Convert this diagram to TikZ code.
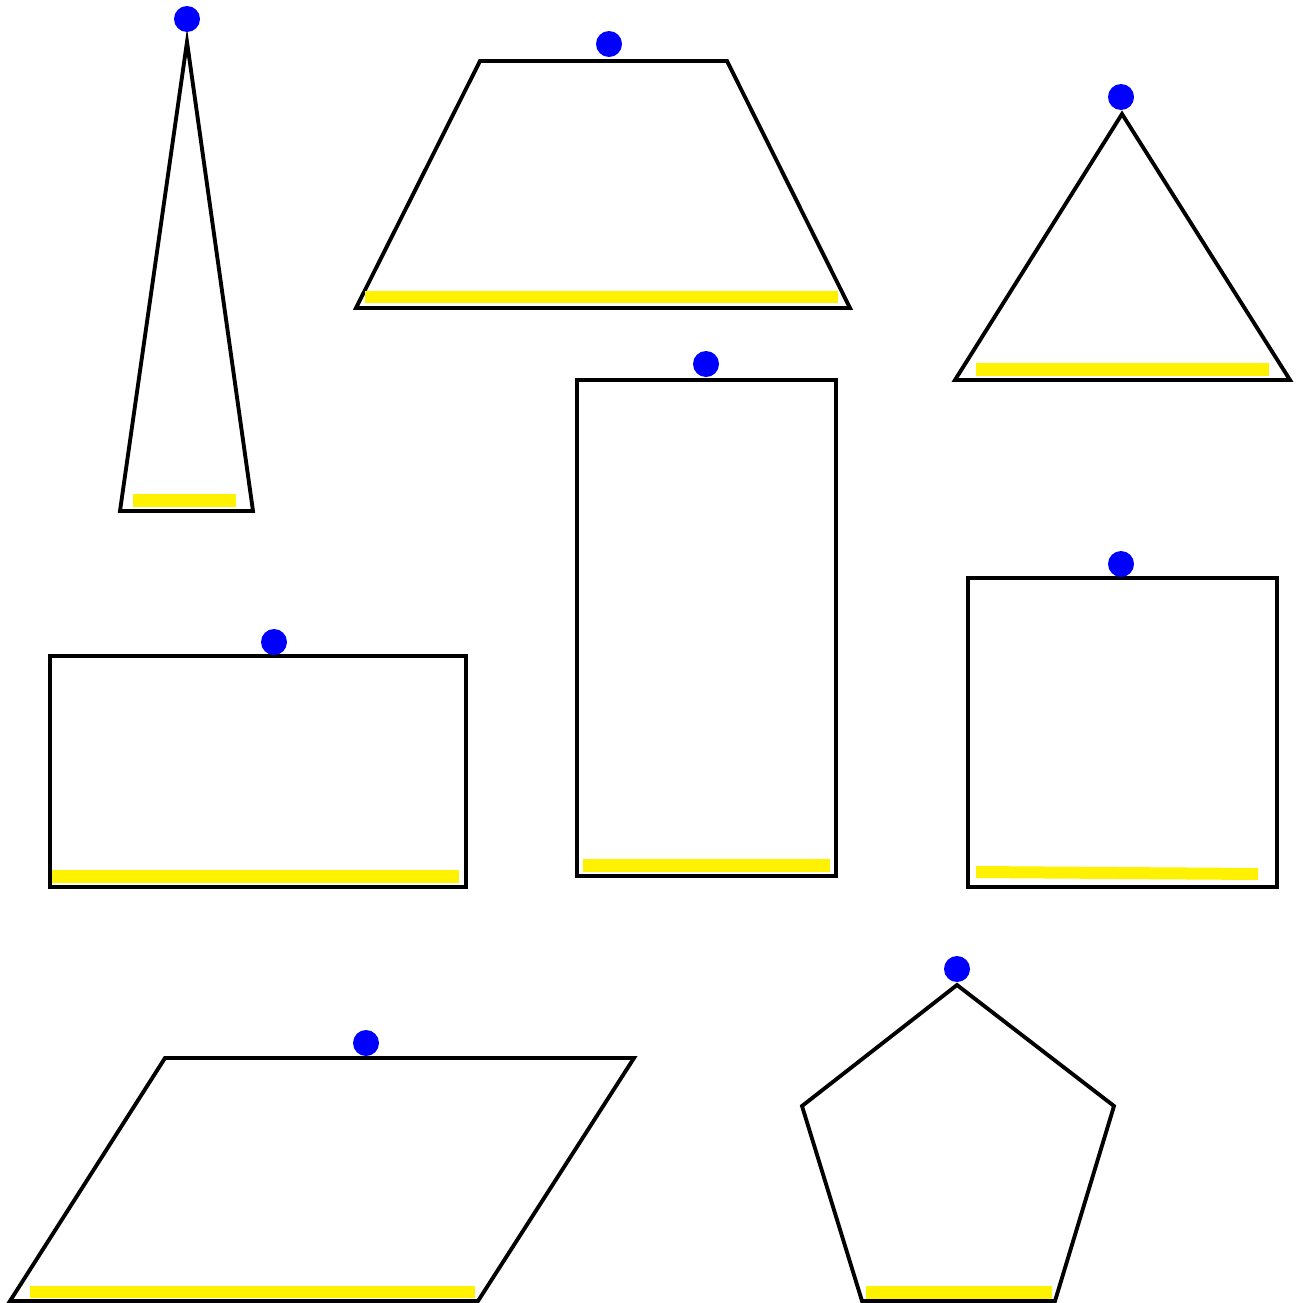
\documentclass[tikz,border=0pt]{standalone}
\usepackage{tikz}

\begin{document}
\begin{tikzpicture}[
  x=0.01cm, y=-0.01cm,
  outline/.style={draw=black, line width=1.1pt, line join=miter},
  base/.style={fill=yellow},
  apex/.style={fill=blue}
]
  \useasboundingbox (0,0) rectangle (1303,1303);

  % Thin triangle
  \draw[outline] (187,42) -- (253,511) -- (120,511) -- cycle;
  \fill[base] (133,494) rectangle (236,507);
  \fill[apex] (187,19) circle (13);

  % Trapezoid
  \draw[outline] (480,61) -- (727,61) -- (850,308) -- (356,308) -- cycle;
  \fill[base] (365,291) rectangle (838,303);
  \fill[apex] (609,44) circle (13);

  % Triangle
  \draw[outline] (1122,114) -- (1290,380) -- (955,380) -- cycle;
  \fill[base] (976,363) rectangle (1269,376);
  \fill[apex] (1121,97) circle (13);

  % Tall rectangle
  \draw[outline] (577,380) rectangle (836,876);
  \fill[base] (583,859) rectangle (830,872);
  \fill[apex] (706,364) circle (13);

  % Wide rectangle
  \draw[outline] (50,656) rectangle (466,887);
  \fill[base] (52,870) rectangle (459,883);
  \fill[apex] (274,642) circle (13);

  % Square
  \draw[outline] (968,578) rectangle (1277,887);
  \fill[base] (976,866) -- (1258,868) -- (1258,880) -- (976,878) -- cycle;
  \fill[apex] (1121,564) circle (13);

  % Parallelogram
  \draw[outline] (165,1058) -- (634,1058) -- (478,1301) -- (10,1301) -- cycle;
  \fill[base] (30,1286) rectangle (475,1298);
  \fill[apex] (366,1043) circle (13);

  % Pentagon
  \draw[outline] (957,985) -- (1114,1106) -- (1055,1301) -- (862,1301) -- (802,1106) -- cycle;
  \fill[base] (866,1286) rectangle (1052,1299);
  \fill[apex] (957,969) circle (13);
\end{tikzpicture}
\end{document}
